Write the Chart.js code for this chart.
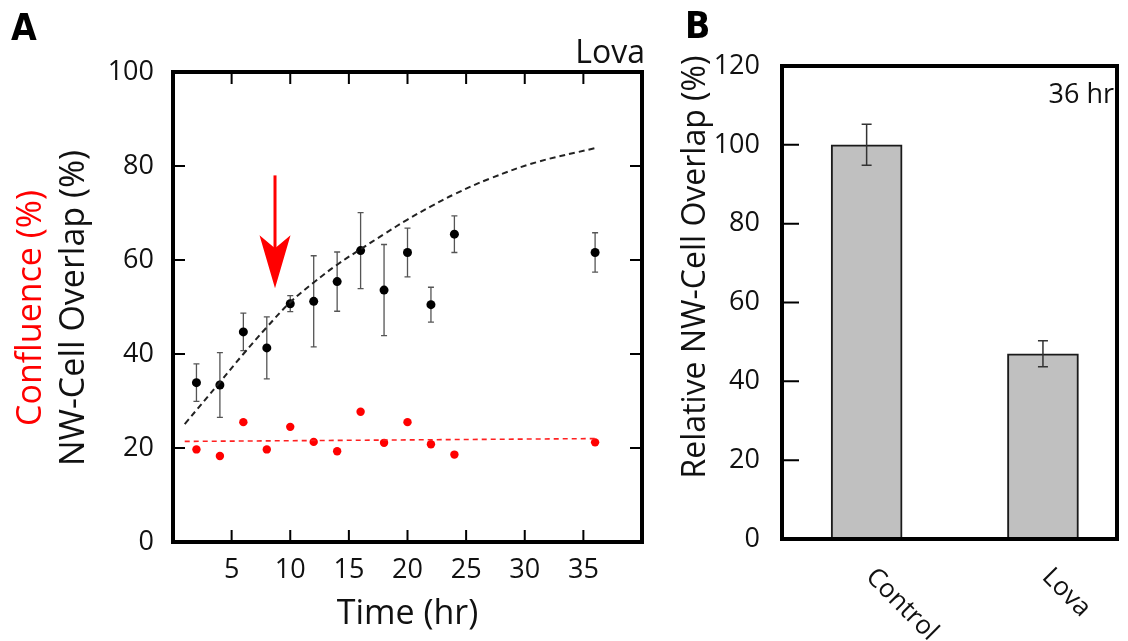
<!DOCTYPE html>
<html><head><meta charset="utf-8">
<script src="https://cdn.jsdelivr.net/npm/chart.js@4.4.1/dist/chart.umd.min.js"></script>
<style>
html,body{margin:0;padding:0;background:#fff;width:1128px;height:641px;overflow:hidden}
#ca{position:absolute;left:0;top:0}
#cb{position:absolute;left:665px;top:0}
</style></head><body>
<canvas id="ca" width="665" height="641"></canvas>
<canvas id="cb" width="463" height="641"></canvas>
<script>
// ---------- Panel A data ----------
const times = [2, 4, 6, 8, 10, 12, 14, 16, 18, 20, 22, 24, 36];
const overlap = [33.9, 33.4, 44.7, 41.3, 50.7, 51.2, 55.4, 62.0, 53.6, 61.6, 50.5, 65.5, 61.6];
const overlapErr = [4.0, 6.9, 4.0, 6.6, 1.7, 9.7, 6.3, 8.1, 9.7, 5.2, 3.7, 3.9, 4.2];
const confluence = [19.7, 18.3, 25.5, 19.7, 24.5, 21.3, 19.3, 27.7, 21.1, 25.5, 20.8, 18.6, 21.2];
const fitTimes = [1, 4, 6, 8, 10, 12, 14, 16, 18, 20, 22, 24, 27, 31, 36];
const fitOverlap = [25.1, 34.0, 40.0, 45.7, 51.0, 55.2, 59.0, 62.3, 65.5, 68.6, 71.4, 74.0, 77.3, 80.8, 83.8];
const confFitTimes = [1, 36];
const confFit = [21.4, 22.0];
const xTicksA = [5, 10, 15, 20, 25, 30, 35];
const yTicksA = [0, 20, 40, 60, 80, 100];
const arrowA = {t: 8.7, from: 78, to: 54};

// ---------- Panel B data ----------
const groups = ['Control', 'Lova'];
const relOverlap = [100, 47];
const relErr = [5.2, 3.3];
const yTicksB = [0, 20, 40, 60, 80, 100, 120];

const FONT = '"Open Sans", "Noto Sans", sans-serif';
const BOLDF = '"Liberation Sans Narrow", "DejaVu Sans Condensed", "Liberation Sans", sans-serif';

function drawBox(ctx, a) {
  ctx.save();
  ctx.strokeStyle = '#000';
  ctx.lineWidth = 4;
  ctx.strokeRect(a.left, a.top, a.right - a.left, a.bottom - a.top);
  ctx.restore();
}

const plugA = {
  id: 'plugA',
  beforeDatasetsDraw(chart) {
    const {ctx, scales: {x, y}} = chart;
    ctx.save();
    ctx.strokeStyle = '#555';
    ctx.lineWidth = 1.3;
    times.forEach((t, i) => {
      const px = x.getPixelForValue(t);
      const y1 = y.getPixelForValue(overlap[i] + overlapErr[i]);
      const y2 = y.getPixelForValue(overlap[i] - overlapErr[i]);
      ctx.beginPath();
      ctx.moveTo(px, y1); ctx.lineTo(px, y2);
      ctx.moveTo(px - 3, y1); ctx.lineTo(px + 3, y1);
      ctx.moveTo(px - 3, y2); ctx.lineTo(px + 3, y2);
      ctx.stroke();
    });
    ctx.restore();
  },
  afterDraw(chart) {
    const {ctx, chartArea: a, scales: {x, y}} = chart;
    drawBox(ctx, a);
    ctx.save();
    ctx.strokeStyle = '#000';
    ctx.lineWidth = 2;
    ctx.beginPath();
    xTicksA.forEach(v => {
      const px = x.getPixelForValue(v);
      ctx.moveTo(px, a.bottom); ctx.lineTo(px, a.bottom - 12);
      ctx.moveTo(px, a.top); ctx.lineTo(px, a.top + 12);
    });
    yTicksA.slice(1, -1).forEach(v => {
      const py = y.getPixelForValue(v);
      ctx.moveTo(a.left, py); ctx.lineTo(a.left + 12, py);
      ctx.moveTo(a.right, py); ctx.lineTo(a.right - 12, py);
    });
    ctx.stroke();

    // arrow
    const ax = x.getPixelForValue(arrowA.t);
    const ay1 = y.getPixelForValue(arrowA.from);
    const ay2 = y.getPixelForValue(arrowA.to);
    ctx.fillStyle = '#ff0000';
    ctx.fillRect(ax - 1.5, ay1, 3, (ay2 - 38) - ay1);
    ctx.beginPath();
    ctx.moveTo(ax, ay2);
    ctx.lineTo(ax - 15.5, ay2 - 53);
    ctx.lineTo(ax, ay2 - 40);
    ctx.lineTo(ax + 15.5, ay2 - 53);
    ctx.closePath();
    ctx.fill();

    // y titles
    const cy = (a.top + a.bottom) / 2 + 1;
    ctx.textAlign = 'center';
    ctx.textBaseline = 'alphabetic';
    ctx.font = '34px ' + FONT;
    ctx.save();
    ctx.translate(84, cy); ctx.rotate(-Math.PI / 2);
    ctx.fillStyle = '#111';
    ctx.fillText('NW-Cell Overlap (%)', 0, 0);
    ctx.restore();
    ctx.save();
    ctx.translate(41, cy); ctx.rotate(-Math.PI / 2);
    ctx.fillStyle = '#ff0000';
    ctx.fillText('Confluence (%)', 0, 0);
    ctx.restore();

    // Lova label
    ctx.fillStyle = '#111';
    ctx.font = '32px ' + FONT;
    ctx.textAlign = 'right';
    ctx.fillText('Lova', a.right + 3, 63);

    // Panel letter
    ctx.font = 'bold 37px ' + BOLDF;
    ctx.textAlign = 'left';
    ctx.fillStyle = '#000';
    ctx.fillText('A', 11, 40);
    ctx.restore();
  }
};

new Chart(document.getElementById('ca'), {
  type: 'scatter',
  data: {
    datasets: [
      {type: 'line', data: fitTimes.map((t, i) => ({x: t, y: fitOverlap[i]})), borderColor: '#222', borderWidth: 2, borderDash: [6, 4], pointRadius: 0, tension: 0.4, fill: false},
      {type: 'line', data: confFitTimes.map((t, i) => ({x: t, y: confFit[i]})), borderColor: '#ff2020', borderWidth: 1.6, borderDash: [5, 4], pointRadius: 0, fill: false},
      {data: times.map((t, i) => ({x: t, y: overlap[i]})), backgroundColor: '#000', borderColor: '#000', pointRadius: 4.5, borderWidth: 0},
      {data: times.map((t, i) => ({x: t, y: confluence[i]})), backgroundColor: '#ff0000', borderColor: '#ff0000', pointRadius: 4.2, borderWidth: 0}
    ]
  },
  options: {
    responsive: false,
    animation: false,
    devicePixelRatio: 1,
    layout: {padding: {top: 72, right: 23, bottom: 0, left: 0}},
    plugins: {legend: {display: false}, tooltip: {enabled: false}},
    scales: {
      x: {
        type: 'linear', min: 0, max: 40,
        afterBuildTicks(s) { s.ticks = xTicksA.map(v => ({value: v})); },
        afterFit(s) { s.height = 99; },
        ticks: {font: {size: 27, family: FONT}, color: '#111', padding: 12, maxRotation: 0, autoSkip: false},
        grid: {display: false, drawTicks: false},
        border: {display: false},
        title: {display: true, text: 'Time (hr)', font: {size: 34, family: FONT}, color: '#111', padding: {top: 0, bottom: 6}}
      },
      y: {
        min: 0, max: 100,
        afterBuildTicks(s) { s.ticks = yTicksA.map(v => ({value: v})); },
        afterFit(s) { s.width = 173; },
        ticks: {font: {size: 27, family: FONT}, color: '#111', padding: 19},
        grid: {display: false, drawTicks: false},
        border: {display: false}
      }
    }
  },
  plugins: [plugA]
});

const plugB = {
  id: 'plugB',
  afterDatasetsDraw(chart) {
    const {ctx, chartArea: a, scales: {x, y}} = chart;
    ctx.save();
    ctx.strokeStyle = '#333';
    ctx.lineWidth = 1.5;
    relOverlap.forEach((v, i) => {
      const px = x.getPixelForValue(i + 1);
      const y1 = y.getPixelForValue(v + relErr[i]);
      const y2 = y.getPixelForValue(v - relErr[i]);
      ctx.beginPath();
      ctx.moveTo(px, y1); ctx.lineTo(px, y2);
      ctx.moveTo(px - 5, y1); ctx.lineTo(px + 5, y1);
      ctx.moveTo(px - 5, y2); ctx.lineTo(px + 5, y2);
      ctx.stroke();
    });
    ctx.restore();
  },
  afterDraw(chart) {
    const {ctx, chartArea: a, scales: {x, y}} = chart;
    drawBox(ctx, a);
    ctx.save();
    ctx.strokeStyle = '#000';
    ctx.lineWidth = 2;
    ctx.beginPath();
    yTicksB.slice(1, -1).forEach(v => {
      const py = y.getPixelForValue(v);
      ctx.moveTo(a.left, py); ctx.lineTo(a.left + 17, py);
    });
    ctx.stroke();

    // category labels rotated
    ctx.fillStyle = '#111';
    ctx.font = '26px ' + FONT;
    ctx.textAlign = 'left';
    ctx.textBaseline = 'alphabetic';
    groups.forEach((g, i) => {
      const px = x.getPixelForValue(i + 1);
      ctx.save();
      ctx.translate(px - 2, a.bottom + 39);
      ctx.rotate(Math.PI / 4);
      ctx.fillText(g, 0, 0);
      ctx.restore();
    });

    // y title
    ctx.font = '32px ' + FONT;
    ctx.textAlign = 'center';
    ctx.save();
    ctx.translate(40, 267);
    ctx.rotate(-Math.PI / 2);
    ctx.fillText('Relative NW-Cell Overlap (%)', 0, 0);
    ctx.restore();

    // 36 hr
    ctx.font = '27px ' + FONT;
    ctx.textAlign = 'right';
    ctx.fillText('36 hr', a.right - 3, 103);

    // Panel letter
    ctx.font = 'bold 37px ' + BOLDF;
    ctx.textAlign = 'left';
    ctx.fillStyle = '#000';
    ctx.fillText('B', 20, 38);
    ctx.restore();
  }
};

new Chart(document.getElementById('cb'), {
  type: 'bar',
  data: {
    datasets: [{
      data: groups.map((g, i) => ({x: i + 1, y: relOverlap[i]})),
      backgroundColor: '#c0c0c0',
      borderColor: '#1a1a1a',
      borderWidth: 2,
      borderSkipped: false,
      barThickness: 71
    }]
  },
  options: {
    responsive: false,
    animation: false,
    devicePixelRatio: 1,
    layout: {padding: {top: 66, right: 11, bottom: 0, left: 0}},
    plugins: {legend: {display: false}, tooltip: {enabled: false}},
    scales: {
      x: {
        type: 'linear', min: 0.52, max: 2.42, offset: false,
        afterFit(s) { s.height = 102; },
        ticks: {display: false},
        grid: {display: false, drawTicks: false, offset: false},
        border: {display: false}
      },
      y: {
        min: 0, max: 120,
        afterBuildTicks(s) { s.ticks = yTicksB.map(v => ({value: v})); },
        afterFit(s) { s.width = 117; },
        ticks: {font: {size: 27, family: FONT}, color: '#111', padding: 22},
        grid: {display: false, drawTicks: false},
        border: {display: false}
      }
    }
  },
  plugins: [plugB]
});
</script>
</body></html>
